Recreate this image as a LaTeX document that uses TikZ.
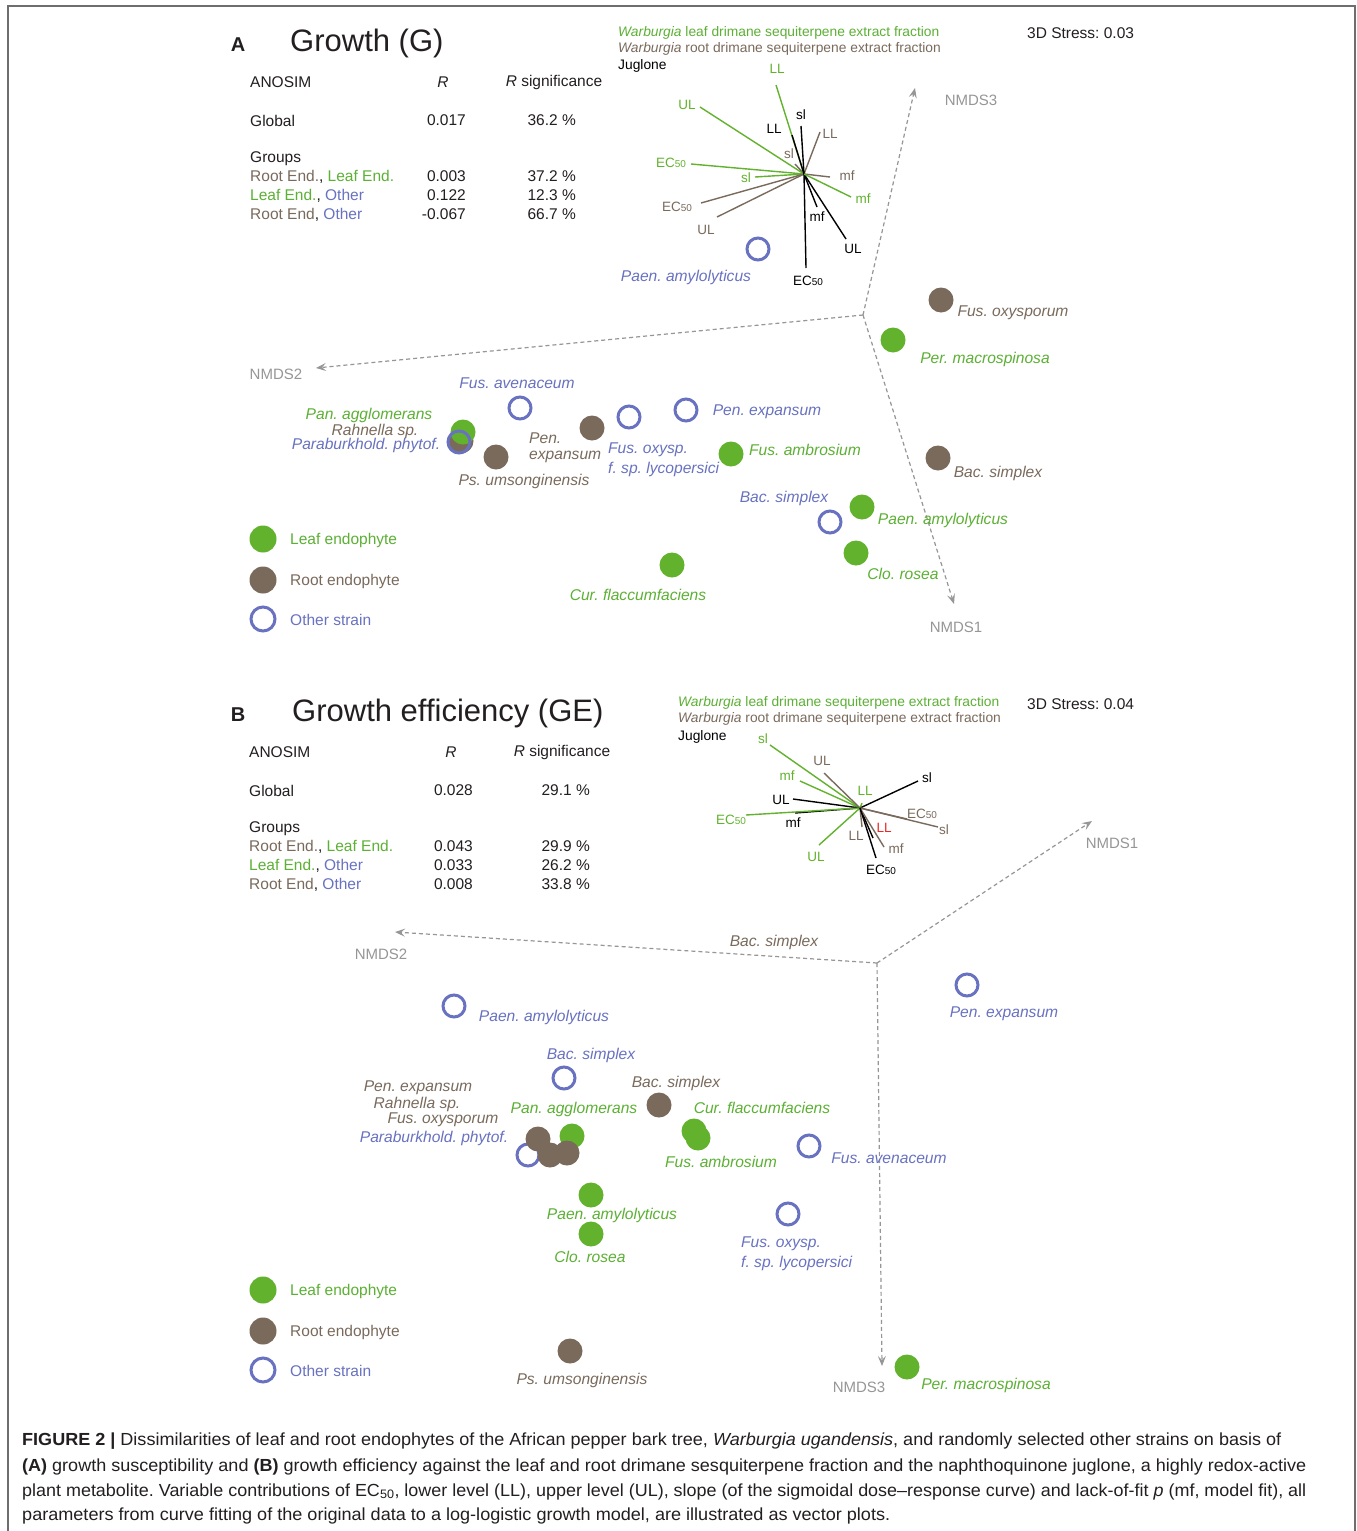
\documentclass[tikz,border=0pt]{standalone}
\usepackage{fontspec}
\setmainfont{Liberation Sans}
\usetikzlibrary{arrows.meta}
\frenchspacing
\definecolor{leafc}{RGB}{99,178,46}
\definecolor{leaft}{RGB}{92,176,52}
\definecolor{rootc}{RGB}{122,106,92}
\definecolor{othc}{RGB}{104,114,192}
\definecolor{axc}{RGB}{150,150,150}
\definecolor{txt}{RGB}{35,31,32}
\definecolor{redc}{RGB}{230,40,40}
\definecolor{framec}{RGB}{110,110,110}
\newcommand\fs[1]{\fontsize{#1}{#1}\selectfont}
\newcommand\ECf{EC{\fs{10}50}}
\newcommand\vecln[6]{%
  \coordinate (#1) at (#4);
  \draw[vline,draw=#2] (#3) -- (#1);
  \node[vlab,text=#2] (#1L) at (#5) {#6};}
\tikzset{
  leafpt/.style={circle,fill=leafc,minimum size=25pt,inner sep=0pt},
  rootpt/.style={circle,fill=rootc,minimum size=25pt,inner sep=0pt},
  othpt/.style={circle,draw=othc,line width=3pt,minimum size=22pt,inner sep=0pt},
  leafleg/.style={circle,fill=leafc,minimum size=27pt,inner sep=0pt},
  rootleg/.style={circle,fill=rootc,minimum size=27pt,inner sep=0pt},
  othleg/.style={circle,draw=othc,line width=3pt,minimum size=24pt,inner sep=0pt},
  strainlbl/.style={font=\fs{15.6}\itshape,inner sep=0pt,yshift=-1pt},
  tbl/.style={font=\fs{15.5},inner sep=0pt,text=txt,yshift=-1.5pt},
  leglbl/.style={font=\fs{15.5},inner sep=0pt,yshift=-1pt},
  srclbl/.style={font=\fs{13.8},inner sep=0pt,anchor=west,yshift=-1pt},
  vline/.style={line width=1.4pt},
  vlab/.style={font=\fs{13.5},inner sep=0pt},
  axisln/.style={draw=axc,line width=1.2pt,dash pattern=on 4pt off 3pt,-{Stealth[length=10pt,width=8pt,inset=4pt]}},
  axlbl/.style={font=\fs{15},text=axc,inner sep=0pt},
  caplbl/.style={font=\fs{17.5},text=txt,inner sep=0pt,anchor=base west},
}
\begin{document}
\begin{tikzpicture}[x=1pt,y=-1pt]
\useasboundingbox (0,0) rectangle (1357,1531);
\fill[white] (0,0) rectangle (1357,1531);
\draw[framec,line width=2pt] (8,1531) -- (8,6) -- (1355,6) -- (1355,1531);

% ================= PANEL A =================
\node[font=\fs{20}\bfseries,inner sep=0pt,text=txt] (labA) at (238,45) {A};
\node[font=\fs{31},inner sep=0pt,anchor=west,text=txt] (titA) at (290,43) {Growth (G)};
\node[tbl,anchor=west] (anA) at (250,81) {ANOSIM};
\node[tbl] (rA) at (443,81) {\textit{R}};
\node[tbl] (rsA) at (554,81) {\textit{R} significance};
\node[tbl,anchor=west] (glA) at (250,119) {Global};
\node[tbl,anchor=east] (glrA) at (466,119) {0.017};
\node[tbl,anchor=east] (glsA) at (576,119) {36.2 \%};
\node[tbl,anchor=west] (grA) at (250,157) {Groups};
\node[tbl,anchor=west] (g1A) at (250,175) {\textcolor{rootc}{Root End.}, \textcolor{leaft}{Leaf End.}};
\node[tbl,anchor=east] (g1rA) at (466,175) {0.003};
\node[tbl,anchor=east] (g1sA) at (576,175) {37.2 \%};
\node[tbl,anchor=west] (g2A) at (250,194) {\textcolor{leaft}{Leaf End.}, \textcolor{othc}{Other}};
\node[tbl,anchor=east] (g2rA) at (466,194) {0.122};
\node[tbl,anchor=east] (g2sA) at (576,194) {12.3 \%};
\node[tbl,anchor=west] (g3A) at (250,213) {\textcolor{rootc}{Root End}, \textcolor{othc}{Other}};
\node[tbl,anchor=east] (g3rA) at (466,213) {-0.067};
\node[tbl,anchor=east] (g3sA) at (576,213) {66.7 \%};

\node[srclbl,text=leaft] (s1A) at (618,32) {\textit{Warburgia} leaf drimane sequiterpene extract fraction};
\node[srclbl,text=rootc] (s2A) at (618,48) {\textit{Warburgia} root drimane sequiterpene extract fraction};
\node[srclbl,text=black] (s3A) at (618,65) {Juglone};
\node[tbl,anchor=west] (stA) at (1027,32) {3D Stress: 0.03};

% vector plot A
\coordinate (cA) at (804,174);
\vecln{aRsl}{rootc}{cA}{795,164}{789,154}{sl}
\vecln{aGLL}{leafc}{cA}{776,85}{777,69}{LL}
\vecln{aGUL}{leafc}{cA}{700,107}{687,105}{UL}
\vecln{aGEC}{leafc}{cA}{691,164}{671,163}{\ECf}
\vecln{aGsl}{leafc}{cA}{755,177}{746,178}{sl}
\vecln{aRLL}{rootc}{cA}{820,132}{830,134}{LL}
\vecln{aRmf}{rootc}{cA}{830,177}{847,176}{mf}
\vecln{aREC}{rootc}{cA}{701,203}{677,207}{\ECf}
\vecln{aRUL}{rootc}{cA}{717,217}{706,230}{UL}
\vecln{aJsl}{black}{cA}{801,126}{801,115}{sl}
\vecln{aJLL}{black}{cA}{792,135}{774,129}{LL}
\vecln{aJmf}{black}{cA}{817,207}{817,217}{mf}
\vecln{aJUL}{black}{cA}{846,239}{853,249}{UL}
\vecln{aJEC}{black}{cA}{806,268}{808,281}{\ECf}
\vecln{aGmf}{leafc}{cA}{851,197}{863,199}{mf}

% axes A
\coordinate (oA) at (863,315);
\coordinate (ax3A) at (915,88);
\coordinate (ax2A) at (316,368);
\coordinate (ax1A) at (954,604);
\draw[axisln] (oA) -- (ax3A);
\draw[axisln] (oA) -- (ax2A);
\draw[axisln] (oA) -- (ax1A);
\node[axlbl] (n3A) at (971,100) {NMDS3};
\node[axlbl] (n2A) at (276,374) {NMDS2};
\node[axlbl] (n1A) at (956,627) {NMDS1};

% points A
\node[othpt] (pA1) at (758,249) {};
\node[strainlbl,text=othc] (pA1L) at (686,276) {Paen. amylolyticus};
\node[rootpt] (pA2) at (941,300) {};
\node[strainlbl,text=rootc] (pA2L) at (1013,312) {Fus. oxysporum};
\node[leafpt] (pA3) at (893,340) {};
\node[strainlbl,text=leaft] (pA3L) at (985,358) {Per. macrospinosa};
\node[othpt] (pA4) at (520,408) {};
\node[strainlbl,text=othc] (pA4L) at (517,382) {Fus. avenaceum};
\node[othpt] (pA5) at (686,410) {};
\node[strainlbl,text=othc] (pA5L) at (767,411) {Pen. expansum};
\node[othpt] (pA6) at (629,417) {};
\node[strainlbl,text=othc,anchor=west] (pA6L) at (608,449) {Fus. oxysp.};
\node[strainlbl,text=othc,anchor=west] (pA6M) at (608,468) {f. sp. lycopersici};
\node[rootpt] (pA7) at (592,428) {};
\node[strainlbl,text=rootc,anchor=west] (pA7L) at (529,437) {Pen.};
\node[strainlbl,text=rootc,anchor=west] (pA7M) at (529,456) {expansum};
\node[rootpt] (pA9) at (461,441) {};
\node[leafpt] (pA8) at (463,432) {};
\node[othpt] (pA10) at (459,442) {};
\node[strainlbl,text=leaft] (pA8L) at (369,414) {Pan. agglomerans};
\node[strainlbl,text=rootc] (pA9L) at (375,430) {Rahnella sp.};
\node[strainlbl,text=othc] (pA10L) at (366,444) {Paraburkhold. phytof.};
\node[rootpt] (pA11) at (496,457) {};
\node[strainlbl,text=rootc] (pA11L) at (524,480) {Ps. umsonginensis};
\node[leafpt] (pA12) at (731,454) {};
\node[strainlbl,text=leaft] (pA12L) at (805,449) {Fus. ambrosium};
\node[othpt] (pA13) at (830,522) {};
\node[strainlbl,text=othc] (pA13L) at (784,497) {Bac. simplex};
\node[leafpt] (pA14) at (862,507) {};
\node[strainlbl,text=leaft] (pA14L) at (943,519) {Paen. amylolyticus};
\node[leafpt] (pA15) at (856,553) {};
\node[strainlbl,text=leaft] (pA15L) at (903,573) {Clo. rosea};
\node[rootpt] (pA16) at (938,458) {};
\node[strainlbl,text=rootc] (pA16L) at (998,472) {Bac. simplex};
\node[leafpt] (pA17) at (672,565) {};
\node[strainlbl,text=leaft] (pA17L) at (638,594) {Cur. flaccumfaciens};

% legend A
\node[leafleg] (lgA1) at (263,539) {};
\node[leglbl,anchor=west,text=leaft] (lgA1L) at (290,539) {Leaf endophyte};
\node[rootleg] (lgA2) at (263,580) {};
\node[leglbl,anchor=west,text=rootc] (lgA2L) at (290,580) {Root endophyte};
\node[othleg] (lgA3) at (263,619) {};
\node[leglbl,anchor=west,text=othc] (lgA3L) at (290,619) {Other strain};

% ================= PANEL B =================
\node[font=\fs{20}\bfseries,inner sep=0pt,text=txt] (labB) at (238,715) {B};
\node[font=\fs{31},inner sep=0pt,anchor=west,text=txt] (titB) at (292,713) {Growth efficiency (GE)};
\node[tbl,anchor=west] (anB) at (249,751) {ANOSIM};
\node[tbl] (rB) at (451,751) {\textit{R}};
\node[tbl] (rsB) at (562,751) {\textit{R} significance};
\node[tbl,anchor=west] (glB) at (249,789) {Global};
\node[tbl,anchor=east] (glrB) at (473,789) {0.028};
\node[tbl,anchor=east] (glsB) at (590,789) {29.1 \%};
\node[tbl,anchor=west] (grB) at (249,827) {Groups};
\node[tbl,anchor=west] (g1B) at (249,845) {\textcolor{rootc}{Root End.}, \textcolor{leaft}{Leaf End.}};
\node[tbl,anchor=east] (g1rB) at (473,845) {0.043};
\node[tbl,anchor=east] (g1sB) at (590,845) {29.9 \%};
\node[tbl,anchor=west] (g2B) at (249,864) {\textcolor{leaft}{Leaf End.}, \textcolor{othc}{Other}};
\node[tbl,anchor=east] (g2rB) at (473,864) {0.033};
\node[tbl,anchor=east] (g2sB) at (590,864) {26.2 \%};
\node[tbl,anchor=west] (g3B) at (249,883) {\textcolor{rootc}{Root End}, \textcolor{othc}{Other}};
\node[tbl,anchor=east] (g3rB) at (473,883) {0.008};
\node[tbl,anchor=east] (g3sB) at (590,883) {33.8 \%};

\node[srclbl,text=leaft] (s1B) at (678,702) {\textit{Warburgia} leaf drimane sequiterpene extract fraction};
\node[srclbl,text=rootc] (s2B) at (678,718) {\textit{Warburgia} root drimane sequiterpene extract fraction};
\node[srclbl,text=black] (s3B) at (678,736) {Juglone};
\node[tbl,anchor=west] (stB) at (1027,703) {3D Stress: 0.04};

% vector plot B
\coordinate (cB) at (860,808);
\vecln{bGsl}{leafc}{cB}{770,745}{763,739}{sl}
\vecln{bGmf}{leafc}{cB}{800,781}{787,776}{mf}
\vecln{bRUL}{rootc}{cB}{824,773}{822,761}{UL}
\vecln{bJUL}{black}{cB}{793,799}{781,800}{UL}
\vecln{bJmf}{black}{cB}{795,813}{793,823}{mf}
\vecln{bGEC}{leafc}{cB}{746,815}{731,820}{\ECf}
\vecln{bGUL}{leafc}{cB}{819,845}{816,857}{UL}
\vecln{bGLL}{leafc}{cB}{862,803}{865,791}{LL}
\vecln{bJsl}{black}{cB}{918,781}{927,778}{sl}
\vecln{bREC}{rootc}{cB}{907,819}{922,814}{\ECf}
\vecln{bRsl}{rootc}{cB}{938,827}{944,830}{sl}
\vecln{bRLL}{rootc}{cB}{862,827}{856,836}{LL}
\vecln{bJLL}{black}{cB}{873,838}{884,828}{\textcolor{redc}{LL}}
\vecln{bRmf}{rootc}{cB}{884,847}{896,849}{mf}
\vecln{bJEC}{black}{cB}{876,858}{881,870}{\ECf}

% axes B
\coordinate (oB) at (877,963);
\coordinate (ax1B) at (1092,821);
\coordinate (ax2B) at (395,932);
\coordinate (ax3B) at (882,1366);
\draw[axisln] (oB) -- (ax1B);
\draw[axisln] (oB) -- (ax2B);
\draw[axisln] (oB) -- (ax3B);
\node[axlbl] (n1B) at (1112,843) {NMDS1};
\node[axlbl] (n2B) at (381,954) {NMDS2};
\node[axlbl] (n3B) at (859,1387) {NMDS3};

% points B
\node[strainlbl,text=rootc] (pB0L) at (774,941) {Bac. simplex};
\node[othpt] (pB1) at (454,1006) {};
\node[strainlbl,text=othc] (pB1L) at (544,1016) {Paen. amylolyticus};
\node[othpt] (pB2) at (967,985) {};
\node[strainlbl,text=othc] (pB2L) at (1004,1013) {Pen. expansum};
\node[othpt] (pB3) at (564,1078) {};
\node[strainlbl,text=othc] (pB3L) at (591,1054) {Bac. simplex};
\node[rootpt] (pB4) at (659,1105) {};
\node[strainlbl,text=rootc] (pB4L) at (676,1082) {Bac. simplex};
\node[leafpt] (pB5) at (694,1131) {};
\node[leafpt] (pB6) at (698,1138) {};
\node[strainlbl,text=leaft] (pB5L) at (762,1107) {Cur. flaccumfaciens};
\node[strainlbl,text=leaft] (pB6L) at (721,1161) {Fus. ambrosium};
\node[othpt] (pB7) at (528,1155) {};
\node[leafpt] (pB8) at (572,1136) {};
\node[rootpt] (pB9) at (538,1139) {};
\node[rootpt] (pB10) at (550,1155) {};
\node[rootpt] (pB11) at (567,1153) {};
\node[strainlbl,text=leaft] (pB8L) at (574,1108) {Pan. agglomerans};
\node[strainlbl,text=rootc] (pB9L) at (418,1087) {Pen. expansum};
\node[strainlbl,text=rootc] (pB10L) at (417,1103) {Rahnella sp.};
\node[strainlbl,text=rootc] (pB11L) at (443,1119) {Fus. oxysporum};
\node[strainlbl,text=othc] (pB7L) at (434,1137) {Paraburkhold. phytof.};
\node[othpt] (pB12) at (809,1146) {};
\node[strainlbl,text=othc] (pB12L) at (889,1157) {Fus. avenaceum};
\node[leafpt] (pB13) at (591,1195) {};
\node[strainlbl,text=leaft] (pB13L) at (612,1214) {Paen. amylolyticus};
\node[leafpt] (pB14) at (591,1234) {};
\node[strainlbl,text=leaft] (pB14L) at (590,1256) {Clo. rosea};
\node[othpt] (pB15) at (788,1214) {};
\node[strainlbl,text=othc,anchor=west] (pB15L) at (741,1243) {Fus. oxysp.};
\node[strainlbl,text=othc,anchor=west] (pB15M) at (741,1262) {f. sp. lycopersici};
\node[rootpt] (pB16) at (570,1351) {};
\node[strainlbl,text=rootc] (pB16L) at (582,1379) {Ps. umsonginensis};
\node[leafpt] (pB17) at (907,1367) {};
\node[strainlbl,text=leaft] (pB17L) at (986,1384) {Per. macrospinosa};

% legend B
\node[leafleg] (lgB1) at (263,1290) {};
\node[leglbl,anchor=west,text=leaft] (lgB1L) at (290,1290) {Leaf endophyte};
\node[rootleg] (lgB2) at (263,1331) {};
\node[leglbl,anchor=west,text=rootc] (lgB2L) at (290,1331) {Root endophyte};
\node[othleg] (lgB3) at (263,1370) {};
\node[leglbl,anchor=west,text=othc] (lgB3L) at (290,1370) {Other strain};

% caption
\node[caplbl] (cap1) at (22,1445) {\resizebox{1259pt}{\height}{\textbf{FIGURE 2 |} Dissimilarities of leaf and root endophytes of the African pepper bark tree, \textit{Warburgia ugandensis}, and randomly selected other strains on basis of}};
\node[caplbl] (cap2) at (22,1471) {\resizebox{1284pt}{\height}{\textbf{(A)} growth susceptibility and \textbf{(B)} growth efficiency against the leaf and root drimane sesquiterpene fraction and the naphthoquinone juglone, a highly redox-active}};
\node[caplbl] (cap3) at (22,1496) {\resizebox{1284pt}{\height}{plant metabolite. Variable contributions of EC\textsubscript{50}, lower level (LL), upper level (UL), slope (of the sigmoidal dose--response curve) and lack-of-fit \textit{p} (mf, model fit), all}};
\node[caplbl] (cap4) at (22,1520) {\resizebox{868pt}{\height}{parameters from curve fitting of the original data to a log-logistic growth model, are illustrated as vector plots.}};
\end{tikzpicture}
\end{document}
